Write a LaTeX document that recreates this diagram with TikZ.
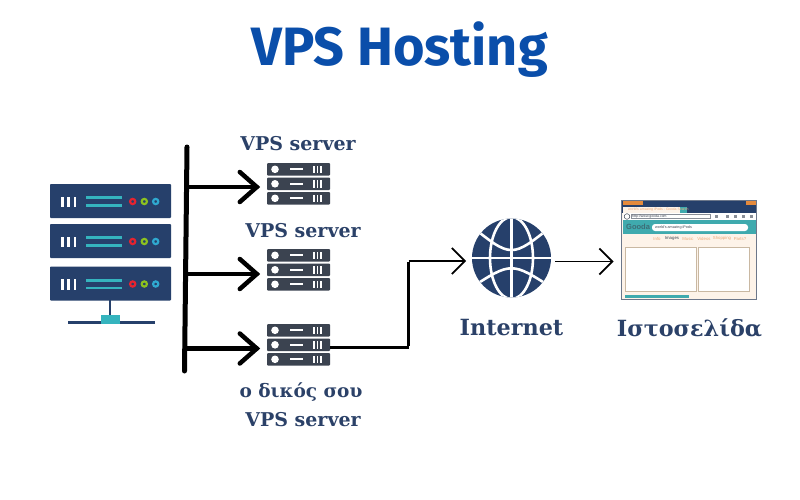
\documentclass[tikz,border=0pt]{standalone}
\usepackage{fontspec}
\setmainfont{DejaVu Serif}
\newfontfamily\titlefont{Fira Sans}
\newfontfamily\tinyfont{Liberation Sans}
\definecolor{navy}{HTML}{26406B}
\definecolor{labelc}{HTML}{2B4168}
\definecolor{titlec}{HTML}{0A4EAA}
\definecolor{slate}{HTML}{3B4350}
\definecolor{tealc}{HTML}{35B4BE}
\definecolor{cream}{HTML}{FDF3E9}
\definecolor{brtl}{HTML}{3FAAAE}
\definecolor{panel}{HTML}{C9B8A2}
\definecolor{ringr}{HTML}{E6232F}
\definecolor{ringg}{HTML}{8CC220}
\definecolor{ringb}{HTML}{2FA9D0}
\definecolor{brorange}{HTML}{E58A3C}
\definecolor{brtext}{HTML}{EBA878}
\definecolor{brgrey}{HTML}{8A8F98}
\tikzset{
  lab/.style={text=labelc,font=\fontsize{19}{24}\selectfont\bfseries,inner sep=0pt,align=center},
  biglab/.style={text=labelc,font=\fontsize{22.3}{26}\selectfont\bfseries,inner sep=0pt,align=center},
  ghost/.style={inner sep=0pt,minimum width=63pt,minimum height=42pt,draw=none},
  trunk/.style={draw=black,line width=5pt,line cap=round},
  branch/.style={draw=black,line width=4.5pt,line cap=round,line join=miter},
  wire/.style={draw=black,line width=3pt},
  thin wire/.style={draw=black,line width=1.7pt},
  tiny/.style={inner sep=0pt,font=\tinyfont\fontsize{4.3}{5}\selectfont},
}
\newcommand{\rackunit}[1]{%
  \fill[navy,rounded corners=0.8pt] (50,#1) rectangle (171,#1+34);
  \foreach \xx in {62.5,68.5,75}{\fill[white] (\xx-1.3,#1+12.5) rectangle (\xx+1.3,#1+23);}
  \fill[tealc] (86,#1+12.3) rectangle (122,#1+15);
  \fill[tealc] (86,#1+20) rectangle (122,#1+22.5);
  \draw[ringr,line width=2.2pt] (132.7,#1+17.5) circle (2.6);
  \draw[ringg,line width=2.2pt] (144.3,#1+17.5) circle (2.6);
  \draw[ringb,line width=2.2pt] (155.7,#1+17.5) circle (2.6);
}
\newcommand{\smallunit}[1]{%
  \fill[slate,rounded corners=1pt] (267,#1) rectangle (330,#1+12.7);
  \fill[white] (275,#1+6.3) circle (3.8);
  \fill[white] (290,#1+5.4) rectangle (303,#1+7.2);
  \foreach \xx in {314,317.5,321}{\fill[white] (\xx-0.8,#1+2.5) rectangle (\xx+0.8,#1+10);}
}
\newcommand{\smallserver}[1]{\smallunit{#1}\smallunit{#1+14.5}\smallunit{#1+29}}
\begin{document}
\begin{tikzpicture}[x=1pt,y=-1pt]
\useasboundingbox (0,0) rectangle (800,500);
\fill[white] (0,0) rectangle (800,500);
\node[text=titlec,font=\titlefont\fontsize{54}{60}\selectfont\bfseries,inner sep=0pt] (title) at (399.5,50) {VPS Hosting};
% main server
\rackunit{184}\rackunit{224}\rackunit{266.5}
\fill[navy] (109.3,300) rectangle (111.3,316);
\fill[navy] (68,320.8) rectangle (155,323.8);
\fill[tealc] (101,315) rectangle (120,324);
% small servers
\smallserver{163}\smallserver{249}\smallserver{324}
\node[ghost] (s1) at (298.5,184) {};
\node[ghost] (s2) at (298.5,270) {};
\node[ghost] (s3) at (298.5,345) {};
\node[lab] (l1) at (298,144) {VPS server};
\node[lab] (l2) at (303,231) {VPS server};
\node[lab,font=\fontsize{18.5}{24}\selectfont\bfseries] (l3) at (301,392) {ο δικός σου};
\node[lab] (l4) at (303,420) {VPS server};
% bus
\coordinate (bt) at (187,147);
\coordinate (bb) at (184.5,371);
\path[trunk] (bt) -- (bb);
\coordinate (a1) at (187,187);
\coordinate (a2) at (186,274);
\coordinate (a3) at (185,348.5);
\foreach \a/\s in {a1/s1,a2/s2,a3/s3}{
  \path[branch] (\a) -- ([xshift=-10pt]\s.west |- \a);
  \path[branch] ([xshift=-27pt,yshift=-15pt]\s.west |- \a) -- ([xshift=-10pt]\s.west |- \a) -- ([xshift=-27pt,yshift=15pt]\s.west |- \a);
}
% globe
\node[circle,fill=navy,minimum size=79pt,inner sep=0pt] (globe) at (511.5,258) {};
\begin{scope}
\clip (globe.center) circle (39.5);
\draw[white,line width=2.6pt] (511.5,218) -- (511.5,298);
\draw[white,line width=2.6pt] (471,258) -- (552,258);
\draw[white,line width=2.6pt] (511.5,258) ellipse (21.5 and 41);
\draw[white,line width=2.6pt] (470,225) .. controls (511.5,258.4) .. (553,225);
\draw[white,line width=2.6pt] (470,288.4) .. controls (511.5,261.6) .. (553,288.4);
\end{scope}
\node[biglab] (inet) at (511.5,328) {Internet};
% browser
\node[inner sep=0pt,minimum width=135pt,minimum height=99pt,fill=cream,draw=none] (web) at (689,249.5) {};
\fill[navy] (621.5,200) rectangle (756.5,213);
\fill[brorange] (623,200.5) rectangle (643,205);
\fill[brorange] (746,200.5) rectangle (756,205);
\fill[cream] (623,206.5) rectangle (680,213);
\fill[brtl] (680,206.5) rectangle (687,213);
\node[tiny,text=brtext,font=\tinyfont\fontsize{3.5}{4}\selectfont,anchor=west] (tab) at (628,209.8) {world's amazing iPods - Gooda Search};
\fill[white] (622.5,213) rectangle (755.5,220);
\draw[slate,line width=0.5pt] (627,216.5) circle (2.8);
\draw[brgrey,line width=0.3pt] (631,214.5) rectangle (710,218.5);
\node[tiny,text=slate,font=\tinyfont\fontsize{3.5}{4}\selectfont,anchor=west] (url) at (632,216.5) {http://www.gooda.com};
\foreach \xx in {716,727,735,743,751}{\fill[brgrey] (\xx-1.5,215) rectangle (\xx+1.5,218);}
\fill[brtl] (622.5,220) rectangle (755.5,234);
\node[tiny,text=slate!60!brtl,font=\tinyfont\fontsize{7.5}{8}\selectfont\bfseries,anchor=west] (brand) at (626,227.3) {Gooda};
\fill[white,rounded corners=3pt] (652,224) rectangle (748,231);
\node[tiny,text=slate,font=\tinyfont\fontsize{3.7}{4}\selectfont,anchor=west] (q) at (655,227.5) {world's amazing iPods};
\node[tiny,text=brtext] (w1) at (657,238.7) {Info};
\node[tiny,text=slate] (w2) at (672,238.7) {Images};
\node[tiny,text=brtext] (w3) at (688,238.7) {Music};
\node[tiny,text=brtext] (w4) at (704,238.7) {Videos};
\node[tiny,text=brtext] (w5) at (722,238.7) {Shopping};
\node[tiny,text=brtext] (w6) at (740,238.7) {Parts?};
\draw[panel,fill=white,line width=0.8pt] (625,247) rectangle (696,291);
\draw[panel,fill=white,line width=0.8pt] (698,247) rectangle (749,291);
\fill[brtl] (625,295) rectangle (689,298);
\draw[brgrey!70!navy,line width=1pt] (621.5,200) rectangle (756.5,299);
\node[biglab] (site) at (689.5,328) {Ιστοσελίδα};
% connectors
\coordinate (c1) at (408.5,347.5);
\coordinate (c2) at (408.5,261);
\draw[wire] (s3.east |- c1) -- (c1);
\draw[draw=black,line width=3pt] ([yshift=1.5pt]c1) -- ([yshift=-1pt]c2);
\draw[thin wire] (c2) -- ([xshift=-7pt]globe.west |- c2);
\draw[thin wire] ([xshift=-20pt,yshift=-13pt]globe.west |- c2) -- ([xshift=-7pt]globe.west |- c2) -- ([xshift=-20pt,yshift=13pt]globe.west |- c2);
\coordinate (c3) at (555,261.5);
\draw[thin wire] (c3) -- ([xshift=-9pt]web.west |- c3);
\draw[thin wire] ([xshift=-22pt,yshift=-13pt]web.west |- c3) -- ([xshift=-9pt]web.west |- c3) -- ([xshift=-22pt,yshift=13pt]web.west |- c3);
\end{tikzpicture}
\end{document}
